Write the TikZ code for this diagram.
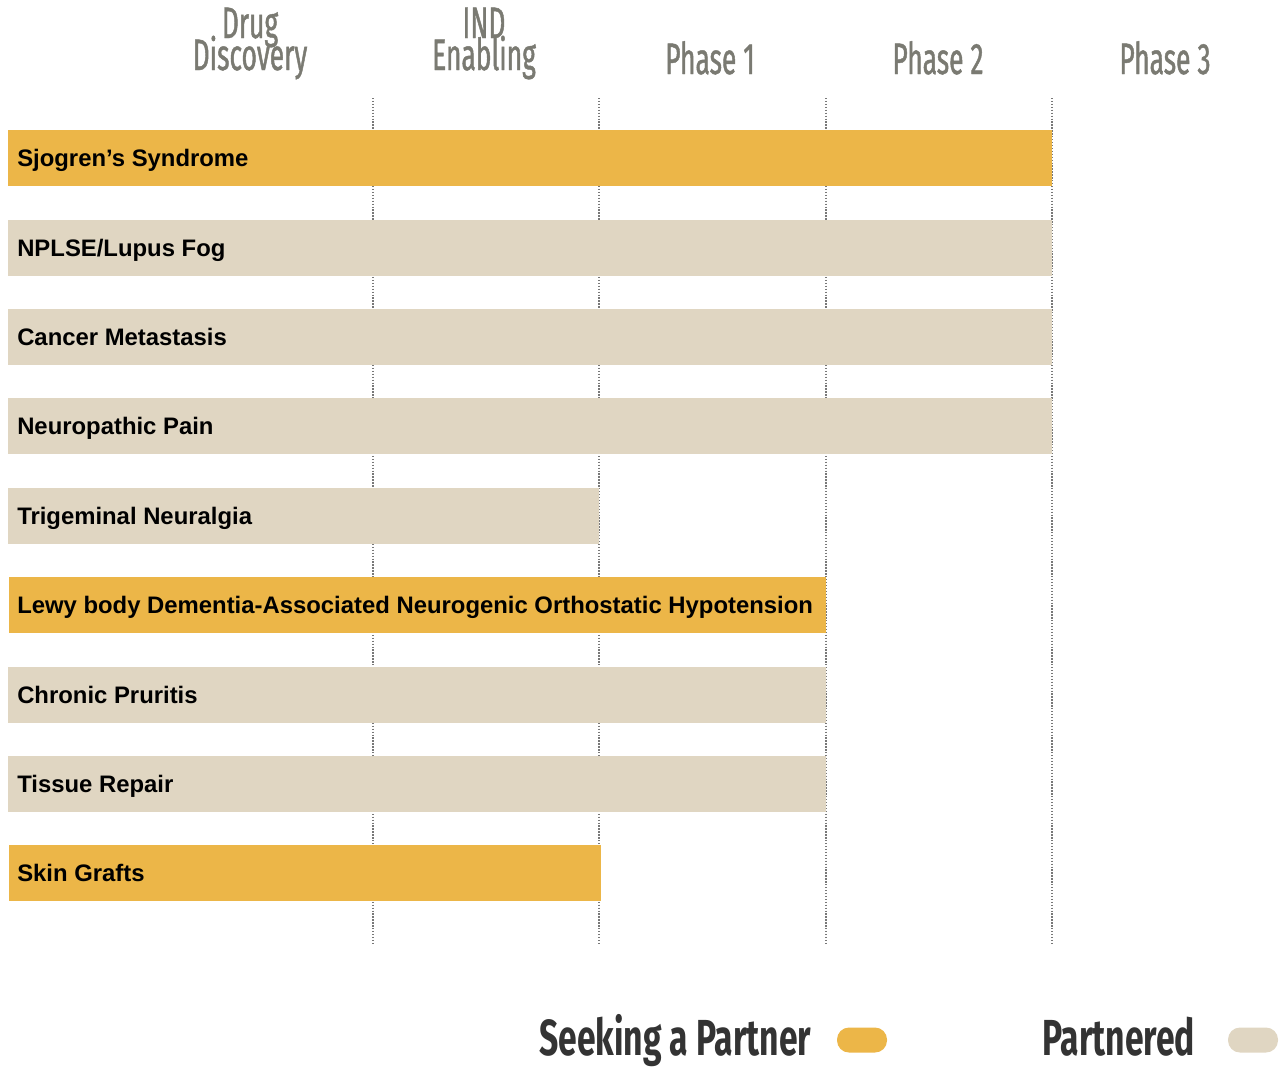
\documentclass[tikz,border=0pt]{standalone}
\usepackage{fontspec}
\setmainfont{Liberation Sans}
\newfontfamily\headfont[FakeStretch=0.6,FakeBold=1]{Fira Sans}
\newfontfamily\legfont[FakeStretch=0.665]{Fira Sans}
\definecolor{seek}{RGB}{236,182,72}
\definecolor{partn}{RGB}{224,214,194}
\definecolor{headgray}{RGB}{122,122,114}
\definecolor{legtext}{RGB}{51,51,51}
\definecolor{dotgray}{RGB}{120,120,120}
\begin{document}
\begin{tikzpicture}[x=0.75pt,y=-0.75pt,
  bar/.style={rectangle, anchor=north west, inner sep=0pt, minimum height=56*0.75pt},
  seekbar/.style={bar, fill=seek},
  partbar/.style={bar, fill=partn},
  barlabel/.style={anchor=base west, inner sep=0pt, font=\bfseries\fontsize{17.9pt}{20pt}\selectfont, text=black},
  head/.style={anchor=base, inner sep=0pt, font=\headfont\fontsize{33pt}{32pt}\selectfont, text=headgray},
  headtop/.style={head, text depth=0pt},
  legend/.style={anchor=base west, inner sep=0pt, font=\legfont\bfseries\fontsize{38pt}{40pt}\selectfont, text=legtext},
  pill/.style={rectangle, rounded corners=9pt, inner sep=0pt, minimum width=50*0.75pt, minimum height=25*0.75pt},
  grid/.style={draw=dotgray, line width=1pt, dash pattern=on 1pt off 1.2pt}]
\useasboundingbox (0,0) rectangle (1287,1068);
% grid lines
\foreach \n/\x in {a/373,b/599,c/826,d/1052}{
  \coordinate (t\n) at (\x,98);
  \coordinate (b\n) at (\x,944);
  \draw[grid] (t\n) -- (b\n);
}
% headers
\node[headtop] (h1a) at (250,38) {Drug};
\node[head] (h1b) at (250,70) {Discovery};
\node[headtop] (h2a) at (484,38) {IND};
\node[head] (h2b) at (484,70) {Enabling};
\node[head] (h3) at (710,74) {Phase 1};
\node[head] (h4) at (938,74) {Phase 2};
\node[head] (h5) at (1165,74) {Phase 3};
% bars
\node[seekbar, minimum width=1044*0.75pt] (r1) at (8,130) {};
\node[partbar, minimum width=1044*0.75pt] (r2) at (8,220) {};
\node[partbar, minimum width=1044*0.75pt] (r3) at (8,309) {};
\node[partbar, minimum width=1044*0.75pt] (r4) at (8,398) {};
\node[partbar, minimum width=591*0.75pt] (r5) at (8,488) {};
\node[seekbar, minimum width=817*0.75pt] (r6) at (9,577) {};
\node[partbar, minimum width=818*0.75pt] (r7) at (8,667) {};
\node[partbar, minimum width=818*0.75pt] (r8) at (8,756) {};
\node[seekbar, minimum width=592*0.75pt] (r9) at (9,845) {};
% labels
\node[barlabel] (l1) at ([xshift=9*0.75pt, yshift=-36*0.75pt]r1.north west) {Sjogren’s Syndrome};
\node[barlabel] (l2) at ([xshift=9*0.75pt, yshift=-36*0.75pt]r2.north west) {NPLSE/Lupus Fog};
\node[barlabel] (l3) at ([xshift=9*0.75pt, yshift=-36*0.75pt]r3.north west) {Cancer Metastasis};
\node[barlabel] (l4) at ([xshift=9*0.75pt, yshift=-36*0.75pt]r4.north west) {Neuropathic Pain};
\node[barlabel] (l5) at ([xshift=9*0.75pt, yshift=-36*0.75pt]r5.north west) {Trigeminal Neuralgia};
\node[barlabel] (l6) at ([xshift=8*0.75pt, yshift=-36*0.75pt]r6.north west) {Lewy body Dementia-Associated Neurogenic Orthostatic Hypotension};
\node[barlabel] (l7) at ([xshift=9*0.75pt, yshift=-36*0.75pt]r7.north west) {Chronic Pruritis};
\node[barlabel] (l8) at ([xshift=9*0.75pt, yshift=-36*0.75pt]r8.north west) {Tissue Repair};
\node[barlabel] (l9) at ([xshift=8*0.75pt, yshift=-36*0.75pt]r9.north west) {Skin Grafts};
% legend
\node[legend] (lg1) at (539,1055) {Seeking a Partner};
\node[pill, fill=seek] (p1) at (862,1040) {};
\node[legend] (lg2) at (1042,1055) {Partnered};
\node[pill, fill=partn] (p2) at (1253,1040) {};
\end{tikzpicture}
\end{document}
